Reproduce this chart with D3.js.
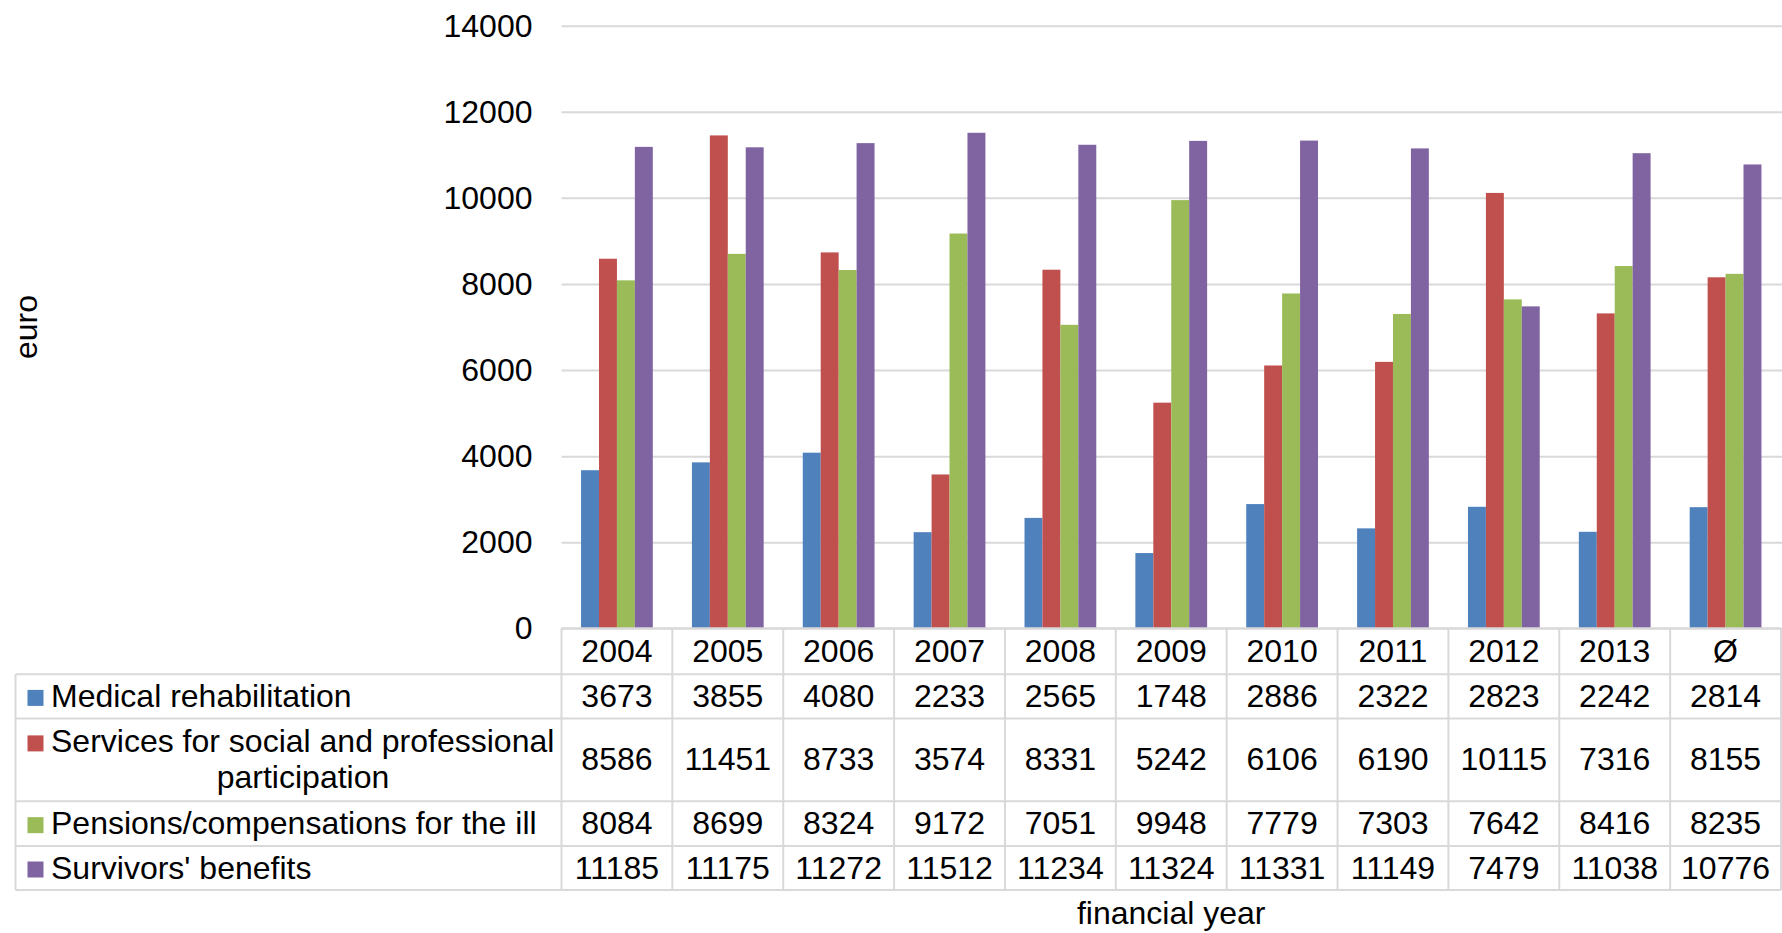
<!DOCTYPE html>
<html>
<head>
<meta charset="utf-8">
<script src="https://cdn.jsdelivr.net/npm/d3@7"></script>
<style>
  body { margin: 0; background: #fff; }
  svg { display: block; }
  text { font-family: "Liberation Sans", Arial, sans-serif; fill: #000; }
</style>
</head>
<body>
<svg id="chart" width="1782" height="933"></svg>
<script>
// ---- data ----
const categories = ["2004", "2005", "2006", "2007", "2008", "2009", "2010", "2011", "2012", "2013", "Ø"];
const seriesNames = [
  "Medical rehabilitation",
  "Services for social and professional participation",
  "Pensions/compensations for the ill",
  "Survivors' benefits"
];
const medicalRehabilitation = [3673, 3855, 4080, 2233, 2565, 1748, 2886, 2322, 2823, 2242, 2814];
const socialParticipation   = [8586, 11451, 8733, 3574, 8331, 5242, 6106, 6190, 10115, 7316, 8155];
const pensionsForIll        = [8084, 8699, 8324, 9172, 7051, 9948, 7779, 7303, 7642, 8416, 8235];
const survivorsBenefits     = [11185, 11175, 11272, 11512, 11234, 11324, 11331, 11149, 7479, 11038, 10776];
const yTickValues = [0, 2000, 4000, 6000, 8000, 10000, 12000, 14000];
const yLabel = "euro";
const xLabel = "financial year";

const seriesValues = [medicalRehabilitation, socialParticipation, pensionsForIll, survivorsBenefits];
const colors = ["#4F81BD", "#C0504D", "#9BBB59", "#8064A2"];

// ---- layout ----
const W = 1782, H = 933;
const fontSize = 32;
const mid = "0.33em"; // vertical centring offset for text
const plotLeft = 561.5, plotRight = 1781;
const plotTop = 25.7, plotBottom = 628.3;
const tableLeft = 15.5;
// horizontal rule positions of the data table (header row, then one row per series)
const rowEdges = [628.3, 674.3, 718.5, 801.3, 846, 890];
const grid = "#d9d9d9";

const svg = d3.select("#chart");

const x0 = d3.scaleBand().domain(categories).range([plotLeft, plotRight]).padding(0);
const x1 = d3.scaleBand().domain(d3.range(seriesNames.length))
  .range([0, x0.bandwidth()]).paddingInner(0).paddingOuter(1.09);
const y = d3.scaleLinear().domain([0, 14000]).range([plotBottom, plotTop]);

// gridlines and tick labels
const yAxis = d3.axisLeft(y).tickValues(yTickValues).tickSize(-(W - plotLeft)).tickPadding(29).tickFormat(d3.format("d"));
const gAxis = svg.append("g").attr("transform", `translate(${plotLeft},0)`).call(yAxis);
gAxis.select(".domain").remove();
gAxis.selectAll(".tick line").attr("stroke", grid).attr("stroke-width", 2);
gAxis.selectAll(".tick text")
  .attr("font-size", fontSize)
  .attr("font-family", "Liberation Sans, Arial, sans-serif")
  .attr("fill", "#000")
  .attr("dy", mid);

// bars
const groups = svg.append("g").selectAll("g")
  .data(categories)
  .join("g")
  .attr("transform", d => `translate(${x0(d)},0)`);

groups.selectAll("rect")
  .data((c, ci) => seriesValues.map((vals, si) => ({ si, v: vals[ci] })))
  .join("rect")
  .attr("x", d => x1(d.si))
  .attr("width", x1.bandwidth())
  .attr("y", d => y(d.v))
  .attr("height", d => y(0) - y(d.v))
  .attr("fill", d => colors[d.si]);

// ---- data table ----
const table = svg.append("g");
const line = (x1_, y1_, x2_, y2_) => table.append("line")
  .attr("x1", x1_).attr("y1", y1_).attr("x2", x2_).attr("y2", y2_)
  .attr("stroke", grid).attr("stroke-width", 2);

// header row top (axis line) spans the plot only
line(plotLeft, rowEdges[0], plotRight, rowEdges[0]);
for (let i = 1; i < rowEdges.length; i++) line(tableLeft, rowEdges[i], plotRight, rowEdges[i]);
// verticals
line(tableLeft, rowEdges[1], tableLeft, rowEdges[rowEdges.length - 1]);
categories.forEach(c => line(x0(c), rowEdges[0], x0(c), rowEdges[rowEdges.length - 1]));
line(plotRight, rowEdges[0], plotRight, rowEdges[rowEdges.length - 1]);

// header labels
table.selectAll("text.hdr").data(categories).join("text")
  .attr("class", "hdr")
  .attr("x", d => x0(d) + x0.bandwidth() / 2)
  .attr("y", (rowEdges[0] + rowEdges[1]) / 2)
  .attr("dy", mid)
  .attr("text-anchor", "middle")
  .attr("font-size", fontSize)
  .text(d => d);

// legend cells and values
const labelLines = [
  [seriesNames[0]],
  ["Services for social and professional", "participation"],
  [seriesNames[2]],
  [seriesNames[3]]
];
const keyX = 27.5, keySize = 16, textX = 51, textRight = 555, lineGap = 36;

seriesNames.forEach((name, si) => {
  const top = rowEdges[si + 1], bottom = rowEdges[si + 2];
  const rowMid = (top + bottom) / 2;
  const lines = labelLines[si];
  const firstY = rowMid - (lines.length - 1) * lineGap / 2;
  table.append("rect")
    .attr("x", keyX).attr("y", firstY - keySize / 2 + 1.5)
    .attr("width", keySize).attr("height", keySize)
    .attr("fill", colors[si]);
  lines.forEach((t, li) => {
    const isFollow = li > 0;
    table.append("text")
      .attr("x", isFollow ? (textX + textRight) / 2 : textX)
      .attr("y", firstY + li * lineGap)
      .attr("dy", mid)
      .attr("text-anchor", isFollow ? "middle" : "start")
      .attr("font-size", fontSize)
      .text(t);
  });
  table.selectAll(null).data(seriesValues[si]).join("text")
    .attr("x", (d, i) => x0(categories[i]) + x0.bandwidth() / 2)
    .attr("y", rowMid)
    .attr("dy", mid)
    .attr("text-anchor", "middle")
    .attr("font-size", fontSize)
    .text(d => d);
});

// axis titles
svg.append("text")
  .attr("transform", `translate(26,${(plotTop + plotBottom) / 2}) rotate(-90)`)
  .attr("dy", mid)
  .attr("text-anchor", "middle")
  .attr("font-size", fontSize)
  .text(yLabel);

svg.append("text")
  .attr("x", (plotLeft + plotRight) / 2)
  .attr("y", 913)
  .attr("dy", mid)
  .attr("text-anchor", "middle")
  .attr("font-size", fontSize)
  .text(xLabel);
</script>
</body>
</html>
